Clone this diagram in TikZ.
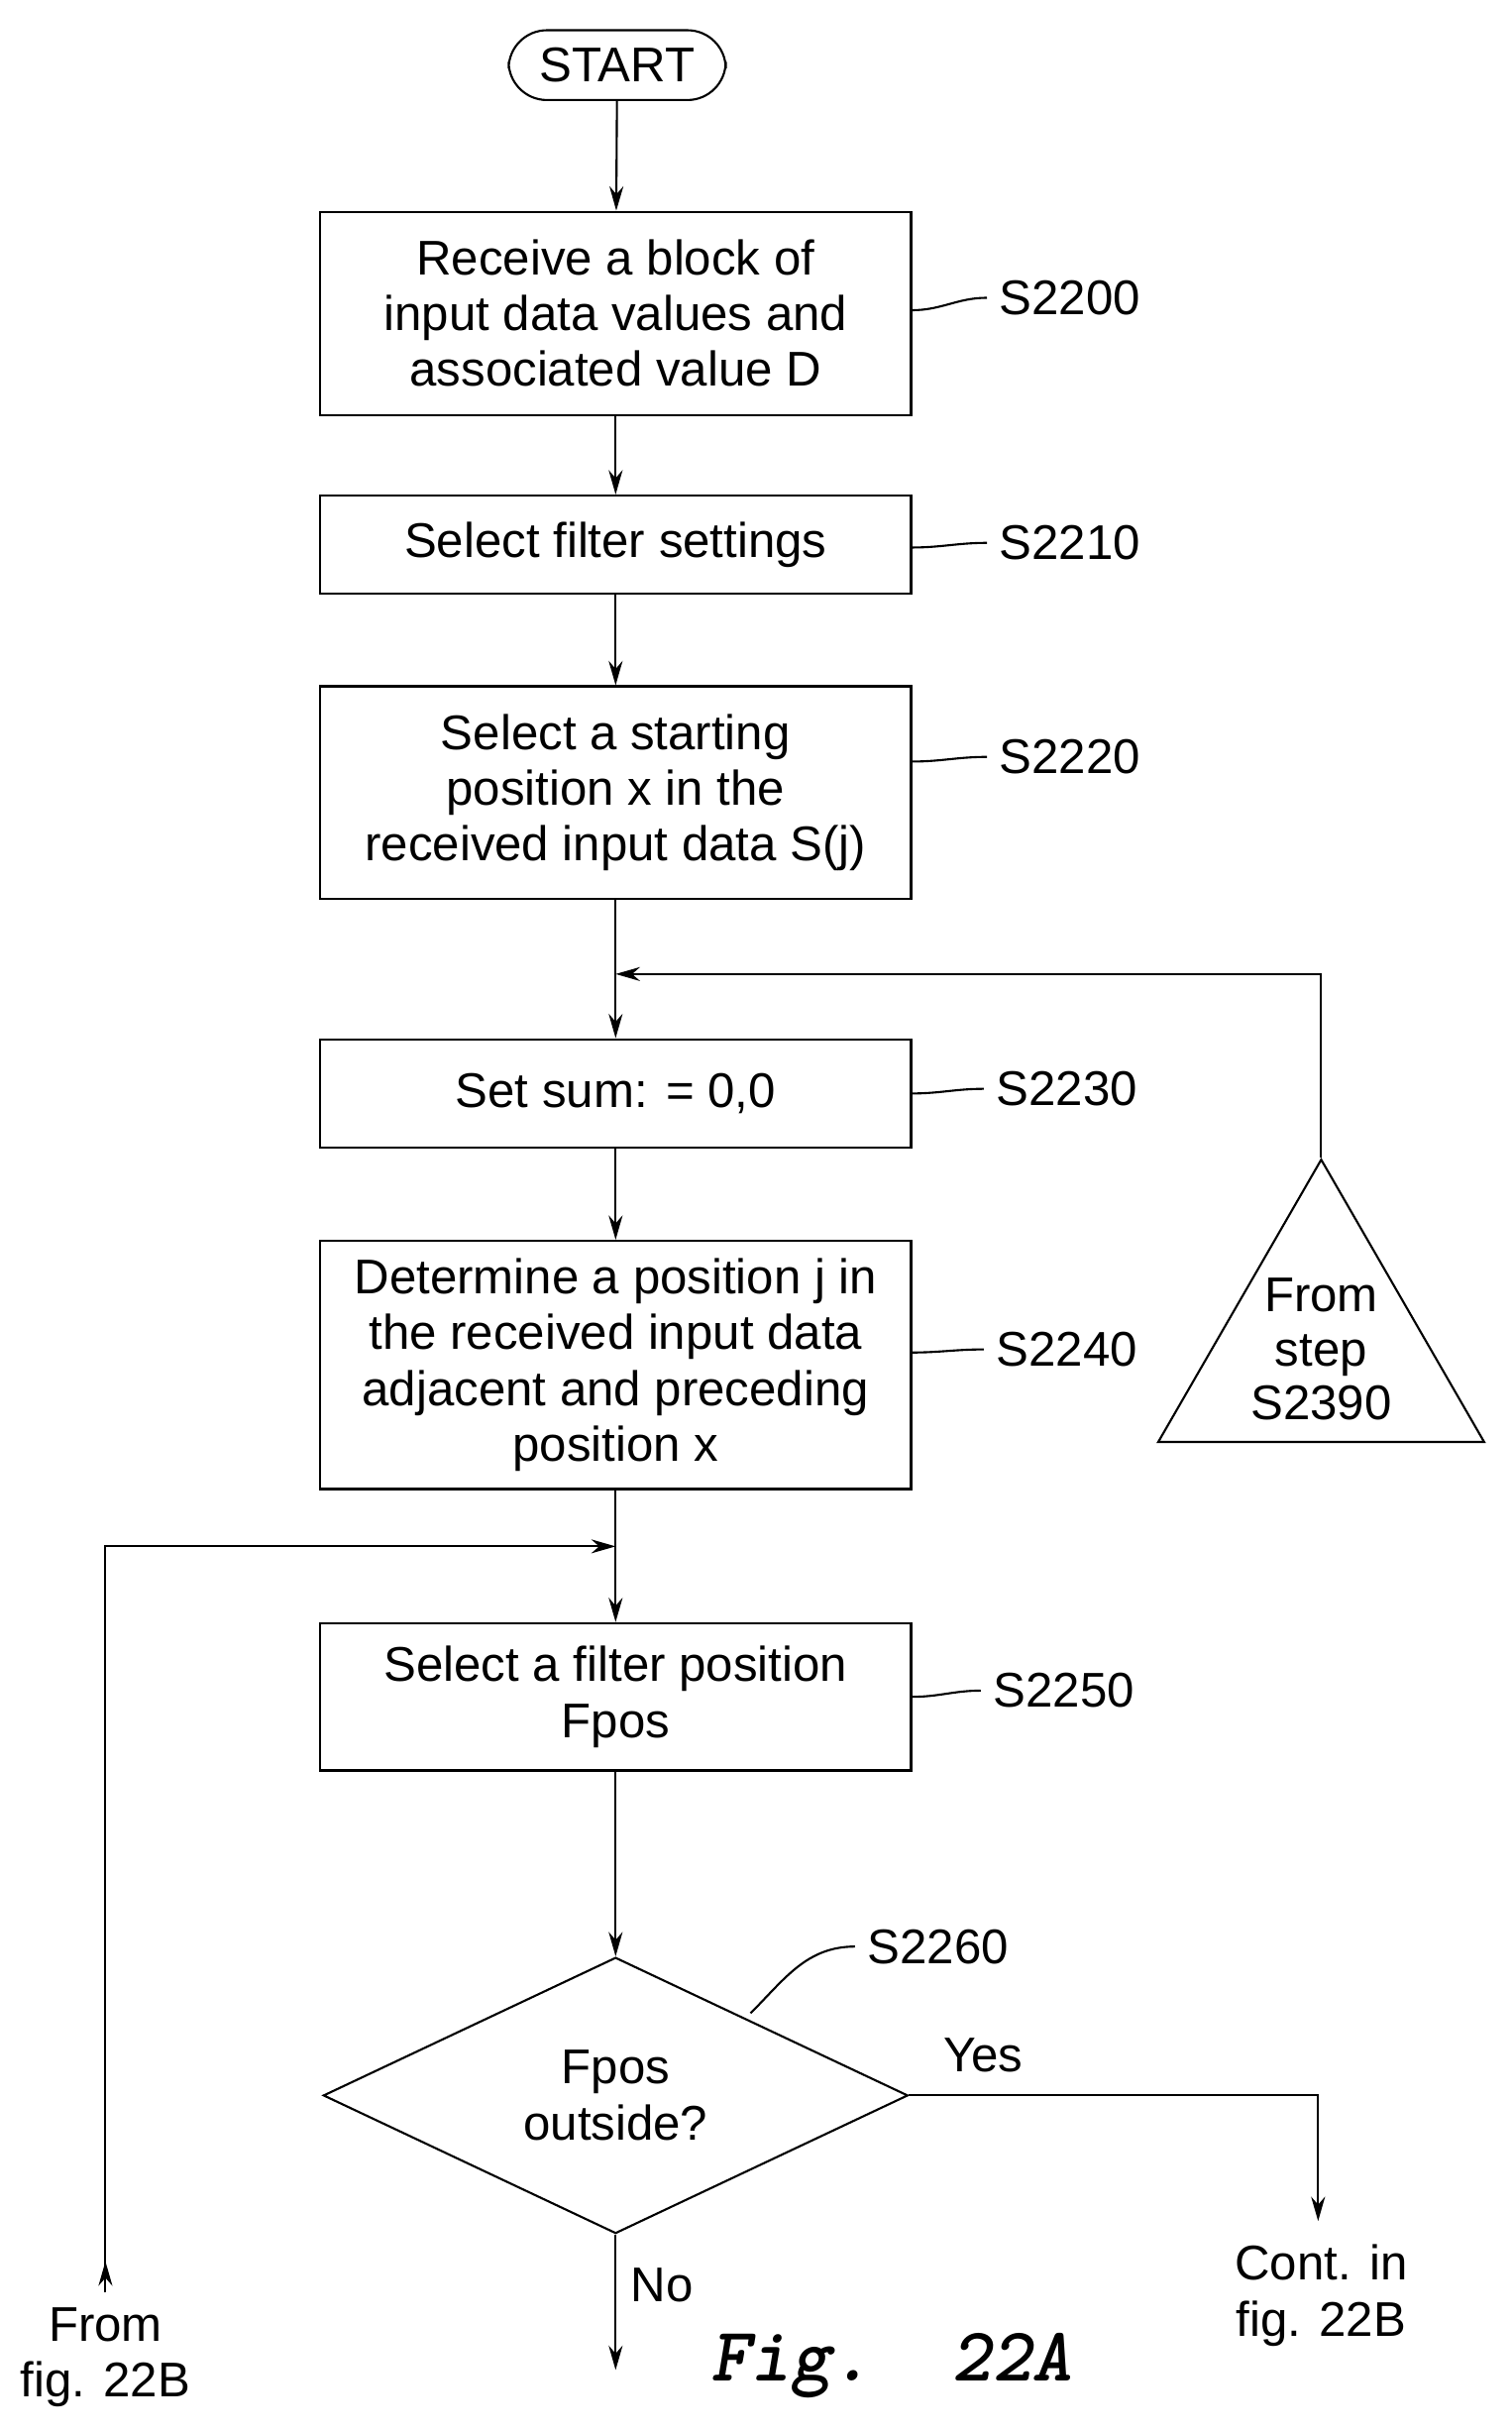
\documentclass[tikz,border=0pt]{standalone}
\usepackage{fontspec}
\setmainfont{Liberation Sans}
\usetikzlibrary{shapes.geometric,arrows.meta}
\tikzset{
  box/.style={draw,minimum width=381*0.01565cm,align=center,inner sep=2pt},
  steplabel/.style={font=\fontsize{14}{16}\selectfont},
  arr/.style={-{Stealth[length=7pt,width=4pt]}}
}
\begin{document}
\begin{tikzpicture}[x=0.01565cm,y=-0.01565cm,font=\fontsize{14}{16}\selectfont,line width=0.6pt]
            \useasboundingbox (0,0) rectangle (975,1568);
            % boxes
            \node [draw,rounded corners=11pt,minimum width=140*0.01565cm,minimum height=45*0.01565cm] (start) at (398,42) {START};
            \node [box,minimum height=131*0.01565cm] (b1) at (397,202) {Receive a block of\\input data values and\\associated value D};
            \node [box,minimum height=63*0.01565cm] (b2) at (397,351) {Select filter settings};
            \node [box,minimum height=137*0.01565cm] (b3) at (397,511) {Select a starting\\position x in the\\received input data S(j)};
            \node [box,minimum height=70*0.01565cm] (b4) at (397,705) {Set sum: = 0,0};
            \node [box,minimum height=160*0.01565cm] (b5) at (397,880) {Determine a position j in\\the received input data\\adjacent and preceding\\position x};
            \node [box,minimum height=95*0.01565cm] (b6) at (397,1094) {Select a filter position\\Fpos};
            \node [draw,diamond,aspect=2.12,minimum width=377*0.01565cm,minimum height=178*0.01565cm,inner sep=0pt,align=center] (d1) at (397,1351) {Fpos\\outside?};
            \node [draw,isosceles triangle,isosceles triangle apex angle=60,shape border rotate=90,minimum height=182*0.01565cm,inner sep=0pt] (t1) at (852,869) {};
            \node [align=center,font=\fontsize{14}{15.5}\selectfont] (t1txt) at (852,870) {From\\step\\S2390};

            % step labels
            \node [steplabel] (s1) at (690,192) {S2200};
            \node [steplabel] (s2) at (690,350) {S2210};
            \node [steplabel] (s3) at (690,488) {S2220};
            \node [steplabel] (s4) at (688,702) {S2230};
            \node [steplabel] (s5) at (688,870) {S2240};
            \node [steplabel] (s6) at (686,1090) {S2250};
            \node [steplabel] (s7) at (605,1255) {S2260};
            \draw (b1.east) ++(0,-2) to[out=0,in=180] (s1.west);
            \draw (b2.east) ++(0,2) to[out=0,in=180] (s2.west);
            \draw (b3.east) ++(0,-20) to[out=0,in=180] (s3.west);
            \draw (b4.east) to[out=0,in=180] (s4.west);
            \draw (b5.east) ++(0,-8) to[out=0,in=180] (s5.west);
            \draw (b6.east) to[out=0,in=180] (s6.west);
            \draw (484,1298) to[out=45,in=180] (s7.west);

            % junctions
            \coordinate (j1) at (397,628);
            \coordinate (j2) at (397,997);
            \coordinate (in1) at (68,1478);
            \coordinate (out1) at (850,1432);
            \coordinate (out2) at (397,1528);

            \draw [arr] (start) -- (b1);
            \draw [arr] (b1) -- (b2);
            \draw [arr] (b2) -- (b3);
            \draw [arr] (b3.south) -- (j1) -- (b4.north);
            \draw [arr] (t1.apex) |- (j1);
            \draw [arr] (b4) -- (b5);
            \draw [arr] (b5.south) -- (j2) -- (b6.north);
            \draw [arr] (in1) |- (j2);
            \draw [arr] (in1) -- ++(0,-20);
            \draw [arr] (b6) -- (d1.north);
            \draw [arr] (d1.east) -| (out1);
            \draw [arr] (d1.south) -- (out2);

            % texts
            \node at (634,1325) {Yes};
            \node at (427,1473) {No};
            \node [align=center] at (852,1480) {Cont. in\\fig. 22B};
            \node [align=center] at (68,1520) {From\\fig. 22B};
            \node at (575,1525) {\fontsize{22}{24}\selectfont\ttfamily\bfseries\itshape Fig.~~22A};
        \end{tikzpicture}
\end{document}
